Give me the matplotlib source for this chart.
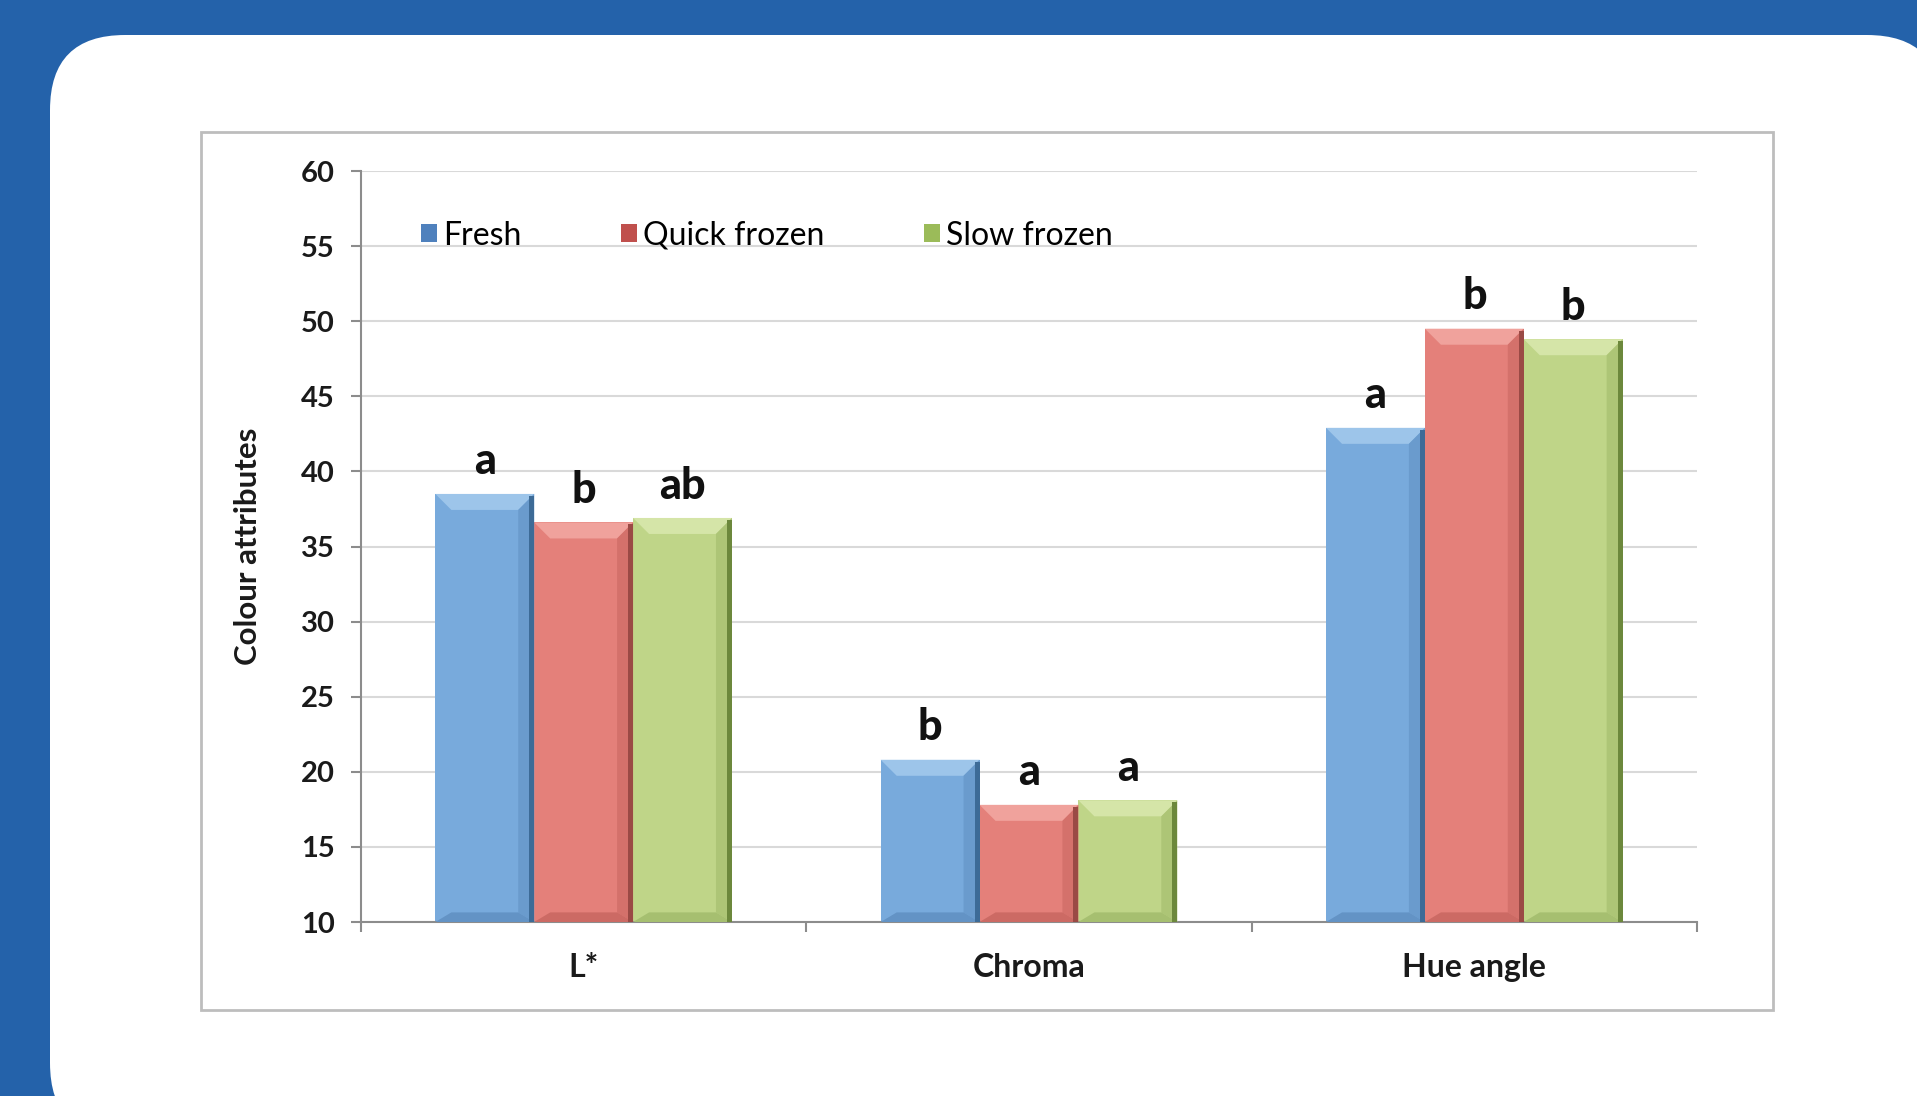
import matplotlib.pyplot as plt
import numpy as np
from matplotlib.patches import FancyBboxPatch, Rectangle, Polygon

plt.rcParams['font.family'] = ['Lato', 'DejaVu Sans']

categories = ['L*', 'Chroma', 'Hue angle']
series = ['Fresh', 'Quick frozen', 'Slow frozen']
fresh = [38.5, 20.8, 42.9]
quick_frozen = [36.6, 17.8, 49.5]
slow_frozen = [36.9, 18.1, 48.8]
letters_fresh = ['a', 'b', 'a']
letters_quick = ['b', 'a', 'b']
letters_slow = ['ab', 'a', 'b']
yticks = [10, 15, 20, 25, 30, 35, 40, 45, 50, 55, 60]

values = [fresh, quick_frozen, slow_frozen]
letters = [letters_fresh, letters_quick, letters_slow]

face = ['#78aadc', '#e4807a', '#bfd588']
top_light = ['#9dc5ea', '#f0a29c', '#d5e5a8']
side_shade = ['#6a9bcd', '#d4716b', '#adc576']
edge_dark = ['#3d6b97', '#9a4a45', '#6c883c']
bottom_dark = ['#6393c5', '#cc6a64', '#a6bf70']
legend_col = ['#4f81bd', '#c0504d', '#9bbb59']

W, H = 1917, 1096
fig = plt.figure(figsize=(W / 100, H / 100), dpi=100)
fig.patch.set_facecolor('#2462aa')

# white rounded panel and chart frame, drawn in pixel units
bg = fig.add_axes([0, 0, 1, 1])
bg.set_xlim(0, W)
bg.set_ylim(H, 0)
bg.axis('off')
bg.add_patch(FancyBboxPatch((50, 35), 1892, 1103,
                            boxstyle='round,pad=0,rounding_size=75',
                            fc='white', ec='none'))
bg.add_patch(Rectangle((201, 132), 1572, 878, fc='white', ec='#bdbdbd', lw=2))

ax = fig.add_axes([361 / W, 1 - 922 / H, 1336 / W, 751 / H])
ax.patch.set_alpha(0)
ax.set_xlim(-0.5, 2.5)
ax.set_ylim(10, 60)
base = ax.get_ylim()[0]

# pixel -> data scale for the bevel strips
p0 = ax.transData.transform((0, 0))
p1 = ax.transData.transform((1, 1))
sx, sy = p1[0] - p0[0], p1[1] - p0[1]

width = 0.222
offsets = [-width, 0, width]
x = np.arange(len(categories))
bev = 16

for i, vals in enumerate(values):
    xs = x + offsets[i]
    ax.bar(xs, np.array(vals) - base, bottom=base, width=width,
           color=face[i], zorder=2)
    for xc, v, lab in zip(xs, vals, letters[i]):
        x0, x1 = xc - width / 2, xc + width / 2
        dx, dy = bev / sx, bev / sy
        ix0, ix1 = x0 + dx, x1 - dx
        it, ib = v - dy, base + 0.6 * dy
        ax.add_patch(Polygon([(x0, v), (x1, v), (ix1, it), (ix0, it)],
                             fc=top_light[i], ec='none', zorder=3))
        ax.add_patch(Polygon([(x1, v), (x1, base), (ix1, ib), (ix1, it)],
                             fc=side_shade[i], ec='none', zorder=3))
        ax.add_patch(Polygon([(x0, base), (x1, base), (ix1, ib), (ix0, ib)],
                             fc=bottom_dark[i], ec='none', zorder=3))
        ax.add_patch(Rectangle((x1 - 5 / sx, base), 5 / sx, v - base - 2 / sy,
                               fc=edge_dark[i], ec='none', zorder=4))
        ax.annotate(lab, (xc, v), xytext=(0, 14), textcoords='offset points',
                    ha='center', va='baseline', fontsize=31, fontweight='black',
                    color='#111111')

ax.set_yticks(yticks)
ax.grid(axis='y', color='#d9d9d9', lw=1.5, zorder=0)
ax.set_axisbelow(True)
for s in ['top', 'right']:
    ax.spines[s].set_visible(False)
for s in ['left', 'bottom']:
    ax.spines[s].set_color('#8c8c8c')
    ax.spines[s].set_linewidth(1.5)

ax.set_xticks(x)
ax.set_xticklabels(categories)
ax.set_xticks([-0.5, 0.5, 1.5, 2.5], minor=True)
ax.tick_params(axis='x', which='major', length=0, pad=22, labelsize=23)
ax.tick_params(axis='x', which='minor', length=7, width=1.5, color='#8c8c8c')
ax.tick_params(axis='y', length=7, width=1.5, color='#8c8c8c', pad=12, labelsize=21)
for t in ax.get_xticklabels() + ax.get_yticklabels():
    t.set_fontweight('bold')
    t.set_color('#1a1a1a')

ax.set_ylabel('Colour attributes', fontsize=22.5, fontweight='bold', color='#1a1a1a')
ax.yaxis.set_label_coords(-0.074, 0.5)

handles = [Rectangle((0, 0), 1, 1, fc=c, ec='none') for c in legend_col]
ax.legend(handles, series, ncol=3, loc='center left', bbox_to_anchor=(0.045, 0.914),
          frameon=False, fontsize=23, handlelength=0.5, handleheight=0.5,
          handletextpad=0.2, columnspacing=3.1, borderpad=0, borderaxespad=0)

fig.savefig('out.png', dpi=100, facecolor=fig.get_facecolor())
